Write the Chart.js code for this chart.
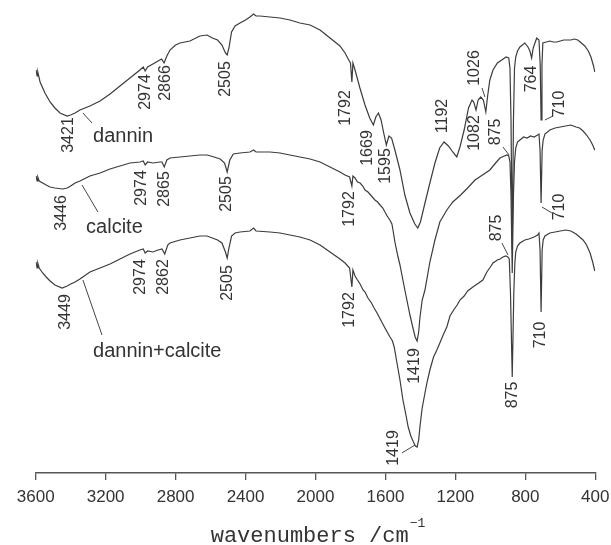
<!DOCTYPE html>
<html>
<head>
<meta charset="utf-8">
<title>FTIR spectra</title>
<script src="https://cdn.jsdelivr.net/npm/chart.js@4.4.1/dist/chart.umd.min.js"></script>
<style>
  html, body { margin: 0; padding: 0; background: #ffffff; }
  #chartIR { display: block; }
</style>
</head>
<body>
<canvas id="chartIR" width="611" height="545"></canvas>
<script>
// ============================
// DATA (wavenumber / cm-1, transmittance a.u.)
// ============================

var danninWn = [3598, 3592, 3588, 3575, 3547, 3518, 3490, 3461, 3421, 3400,
    3375, 3347, 3290, 3232, 3175, 3118, 3061, 3004, 2985, 2974,
    2960, 2930, 2890, 2880, 2866, 2850, 2832, 2800, 2775, 2718,
    2661, 2620, 2590, 2560, 2535, 2515, 2505, 2495, 2480, 2460,
    2432, 2400, 2375, 2354, 2340, 2318, 2260, 2203, 2146, 2089,
    2031, 1974, 1917, 1860, 1831, 1810, 1800, 1792, 1786, 1774,
    1746, 1717, 1690, 1669, 1655, 1640, 1625, 1610, 1595, 1580,
    1565, 1546, 1517, 1489, 1460, 1432, 1415, 1400, 1374, 1346,
    1317, 1290, 1265, 1240, 1215, 1192, 1174, 1150, 1125, 1105,
    1095, 1082, 1070, 1055, 1040, 1026, 1015, 1003, 985, 960,
    935, 910, 895, 888, 882, 875, 868, 862, 855, 845,
    831, 803, 785, 774, 764, 755, 745, 735, 722, 715,
    710, 705, 700, 680, 660, 640, 620, 600, 580, 560,
    540, 520, 500, 480, 460, 440, 425, 410, 403];
var danninT = [403, 397, 401, 391, 380, 371, 365, 360, 357, 358,
    360, 363, 367, 372, 379, 387, 395, 403, 406, 402,
    406, 409, 413, 414, 410, 417, 423, 428, 430, 432,
    437, 438, 435, 433, 428, 420, 418, 425, 441, 447,
    450, 453, 456, 459, 457, 457, 456, 455, 453, 450,
    448, 443, 435, 427, 420, 413, 410, 391, 410, 403,
    385, 368, 355, 348, 356, 360, 353, 340, 328, 337,
    335, 323, 303, 278, 260, 249, 245, 251, 270, 290,
    310, 325, 331, 327, 321, 316, 326, 343, 365, 373,
    371, 363, 373, 376, 373, 361, 378, 393, 403, 410,
    413, 416, 415, 405, 353, 223, 353, 405, 416, 422,
    426, 430, 426, 422, 415, 425, 430, 435, 433, 408,
    353, 408, 430, 431, 432, 431, 431, 432, 433, 433,
    433, 434, 433, 430, 427, 422, 416, 407, 401];

var calciteWn = [3598, 3592, 3588, 3580, 3560, 3540, 3518, 3490, 3446, 3420,
    3400, 3375, 3347, 3290, 3232, 3175, 3118, 3061, 3004, 2985,
    2974, 2960, 2930, 2890, 2878, 2865, 2850, 2832, 2775, 2718,
    2661, 2620, 2580, 2545, 2520, 2505, 2490, 2470, 2432, 2375,
    2354, 2340, 2260, 2203, 2146, 2089, 2031, 1974, 1917, 1860,
    1831, 1805, 1792, 1786, 1774, 1760, 1745, 1730, 1717, 1700,
    1680, 1660, 1645, 1631, 1615, 1603, 1590, 1575, 1563, 1555,
    1546, 1528, 1517, 1489, 1460, 1440, 1430, 1419, 1410, 1403,
    1390, 1374, 1346, 1317, 1289, 1249, 1215, 1170, 1130, 1088,
    1045, 1003, 970, 945, 920, 905, 895, 888, 882, 875,
    868, 862, 855, 845, 831, 810, 790, 770, 750, 730,
    722, 716, 710, 704, 698, 688, 660, 630, 600, 570,
    540, 510, 490, 470, 450, 430, 415, 403];
var calciteT = [297, 292, 296, 292, 290, 288, 286, 285, 284, 285,
    287, 290, 292, 297, 300, 304, 307, 310, 311, 312,
    308, 311, 310, 311, 311, 306, 313, 315, 316, 317,
    318, 318, 316, 314, 310, 301, 313, 319, 320, 321,
    323, 321, 321, 320, 318, 316, 314, 311, 306, 301,
    298, 296, 287, 297, 295, 291, 290, 287, 283, 281,
    277, 273, 271, 268, 265, 261, 257, 253, 249, 241,
    231, 216, 208, 183, 158, 143, 136, 132, 141, 155,
    173, 183, 211, 233, 251, 263, 271, 278, 285, 293,
    298, 303, 310, 315, 317, 318, 317, 311, 278, 200,
    278, 311, 325, 331, 333, 336, 335, 337, 336, 338,
    339, 323, 270, 323, 333, 339, 343, 345, 346, 347,
    348, 346, 345, 342, 338, 333, 328, 323];

var mixWn = [3598, 3592, 3588, 3580, 3560, 3540, 3518, 3490, 3449, 3420,
    3400, 3375, 3347, 3290, 3232, 3175, 3118, 3061, 3004, 2985,
    2974, 2960, 2930, 2900, 2878, 2862, 2845, 2832, 2775, 2718,
    2661, 2620, 2590, 2560, 2535, 2515, 2505, 2495, 2480, 2460,
    2432, 2375, 2354, 2340, 2260, 2203, 2146, 2089, 2031, 1974,
    1917, 1860, 1831, 1805, 1792, 1786, 1774, 1760, 1745, 1728,
    1717, 1700, 1680, 1665, 1648, 1630, 1612, 1590, 1574, 1560,
    1550, 1534, 1517, 1500, 1485, 1470, 1455, 1440, 1429, 1419,
    1410, 1403, 1390, 1374, 1363, 1346, 1325, 1306, 1289, 1270,
    1249, 1231, 1210, 1190, 1174, 1150, 1130, 1100, 1075, 1043,
    1020, 1000, 985, 960, 945, 928, 912, 900, 892, 885,
    875, 866, 860, 855, 845, 831, 803, 780, 750, 730,
    722, 716, 710, 704, 698, 688, 660, 630, 600, 570,
    540, 510, 490, 470, 450, 430, 415, 403];
var mixT = [211, 205, 210, 205, 200, 196, 192, 188, 185, 187,
    189, 191, 194, 201, 205, 209, 214, 219, 223, 224,
    220, 222, 221, 223, 224, 219, 228, 230, 233, 235,
    237, 237, 235, 233, 230, 221, 215, 225, 237, 240,
    241, 242, 245, 242, 241, 240, 238, 236, 233, 228,
    221, 214, 210, 205, 186, 203, 197, 193, 189, 183,
    181, 175, 170, 165, 160, 154, 148, 141, 136, 132,
    126, 110, 93, 73, 60, 46, 37, 31, 27, 26,
    33, 46, 65, 80, 90, 103, 116, 123, 130, 138,
    146, 157, 163, 168, 173, 177, 182, 186, 189, 193,
    201, 206, 210, 213, 214, 216, 217, 216, 214, 180,
    96, 180, 210, 221, 227, 230, 233, 234, 236, 238,
    240, 223, 161, 223, 233, 237, 240, 241, 242, 243,
    242, 239, 236, 233, 228, 220, 211, 202];

// x axis
var xTickStep = 400;
var xMin = 400;
var xMax = 3600;

// peak labels: [text, wavenumber, transmittance]
var peakLabels = [
    ['3421', 3410, 338], ['2974', 2969, 381], ['2866', 2855, 390], ['2505', 2512, 394],
    ['1792', 1826, 365], ['1669', 1700, 325], ['1595', 1597, 307], ['1192', 1271, 357],
    ['1082', 1088, 340], ['1026', 1088, 405], ['875', 968, 341], ['764', 762, 394],
    ['710', 602, 369],
    ['3446', 3450, 260], ['2974', 2992, 285], ['2865', 2861, 284], ['2505', 2506, 279],
    ['1792', 1803, 264], ['1419', 1431, 107], ['875', 962, 245], ['710', 607, 266],
    ['3449', 3427, 161], ['2974', 2998, 196], ['2862', 2866, 196], ['2505', 2500, 190],
    ['1792', 1803, 163], ['1419', 1551, 25], ['875', 871, 78], ['710', 710, 138]
];

// curve names: [text, wavenumber (left), transmittance (baseline)]
var seriesNames = [
    ['dannin', 3272, 331],
    ['calcite', 3312, 240],
    ['dannin+calcite', 3272, 116]
];

// leader lines: [wn1, t1, wn2, t2]
var leaderLines = [
    [3330, 360, 3278, 350],
    [3335, 288, 3244, 261],
    [3330, 193, 3221, 138],
    [1048, 385, 1031, 376],
    [928, 326, 893, 318],
    [642, 357, 688, 353],
    [934, 230, 899, 218],
    [648, 260, 705, 266],
    [1506, 20, 1431, 28]
];

function toPoints(wn, t) {
    var pts = [];
    for (var i = 0; i < wn.length; i++) {
        pts.push({ x: wn[i], y: t[i] });
    }
    return pts;
}

// ============================
// ANOTAÇÕES + TÍTULO DO EIXO
// ============================

var annotate = {
    id: 'annotate',
    afterDatasetsDraw: function (chart) {
        var ctx = chart.ctx;
        var x = chart.scales.x;
        var y = chart.scales.y;
        ctx.save();
        ctx.fillStyle = '#333333';
        ctx.strokeStyle = '#444444';
        ctx.lineWidth = 1;

        // leader lines
        leaderLines.forEach(function (l) {
            ctx.beginPath();
            ctx.moveTo(x.getPixelForValue(l[0]), y.getPixelForValue(l[1]));
            ctx.lineTo(x.getPixelForValue(l[2]), y.getPixelForValue(l[3]));
            ctx.stroke();
        });

        // rotated peak numbers
        ctx.font = '16px "Liberation Sans", Arial, sans-serif';
        ctx.textAlign = 'center';
        ctx.textBaseline = 'middle';
        peakLabels.forEach(function (p) {
            ctx.save();
            ctx.translate(x.getPixelForValue(p[1]), y.getPixelForValue(p[2]));
            ctx.rotate(-Math.PI / 2);
            ctx.fillText(p[0], 0, 0);
            ctx.restore();
        });

        // curve names
        ctx.font = '20px "Liberation Sans", Arial, sans-serif';
        ctx.textAlign = 'left';
        ctx.textBaseline = 'alphabetic';
        seriesNames.forEach(function (s) {
            ctx.fillText(s[0], x.getPixelForValue(s[1]), y.getPixelForValue(s[2]));
        });
        ctx.restore();
    },
    afterDraw: function (chart) {
        var ctx = chart.ctx;
        var area = chart.chartArea;
        var main = 'wavenumbers /cm';
        var sup = '\u22121';
        ctx.save();
        ctx.fillStyle = '#333333';
        ctx.textBaseline = 'alphabetic';
        ctx.font = '22px "Liberation Mono", "DejaVu Sans Mono", monospace';
        var wMain = ctx.measureText(main).width;
        ctx.font = '13px "Liberation Mono", "DejaVu Sans Mono", monospace';
        var wSup = ctx.measureText(sup).width;
        var left = (area.left + area.right) / 2 - (wMain + wSup) / 2 + 2;
        var base = chart.height - 3;
        ctx.font = '22px "Liberation Mono", "DejaVu Sans Mono", monospace';
        ctx.textAlign = 'left';
        ctx.fillText(main, left, base);
        ctx.font = '13px "Liberation Mono", "DejaVu Sans Mono", monospace';
        ctx.fillText(sup, left + wMain + 1, base - 15);
        ctx.restore();
    }
};

document.addEventListener('DOMContentLoaded', function () {

    var ctxIR = document.getElementById('chartIR');

    var lineStyle = {
        borderColor: '#3c3c3c',
        borderWidth: 1.2,
        pointRadius: 0,
        tension: 0,
        fill: false
    };

    var graficoIR = new Chart(ctxIR, {
        type: 'line',
        data: {
            datasets: [
                Object.assign({ label: 'dannin', data: toPoints(danninWn, danninT) }, lineStyle),
                Object.assign({ label: 'calcite', data: toPoints(calciteWn, calciteT) }, lineStyle),
                Object.assign({ label: 'dannin+calcite', data: toPoints(mixWn, mixT) }, lineStyle)
            ]
        },
        options: {
            responsive: false,
            animation: false,
            devicePixelRatio: 1,
            layout: { padding: { left: 35.7, right: 15.7, top: 0, bottom: 0 } },
            plugins: {
                legend: { display: false },
                tooltip: { enabled: false }
            },
            scales: {
                x: {
                    type: 'linear',
                    reverse: true,
                    min: xMin,
                    max: xMax,
                    grid: {
                        display: true,
                        drawOnChartArea: false,
                        drawTicks: true,
                        tickLength: 7,
                        color: '#555555',
                        lineWidth: 1.3
                    },
                    border: { display: true, color: '#555555', width: 1.5 },
                    ticks: {
                        stepSize: xTickStep,
                        autoSkip: false,
                        maxRotation: 0,
                        padding: 7,
                        color: '#333333',
                        font: { family: '"Liberation Sans", Arial, sans-serif', size: 17 },
                        callback: function (value) { return String(value); }
                    },
                    afterFit: function (scale) {
                        scale.paddingLeft = 0;
                        scale.paddingRight = 0;
                        scale.height = 72;
                    }
                },
                y: {
                    display: false,
                    min: 0,
                    max: 473
                }
            }
        },
        plugins: [annotate]
    });
});
</script>
</body>
</html>
